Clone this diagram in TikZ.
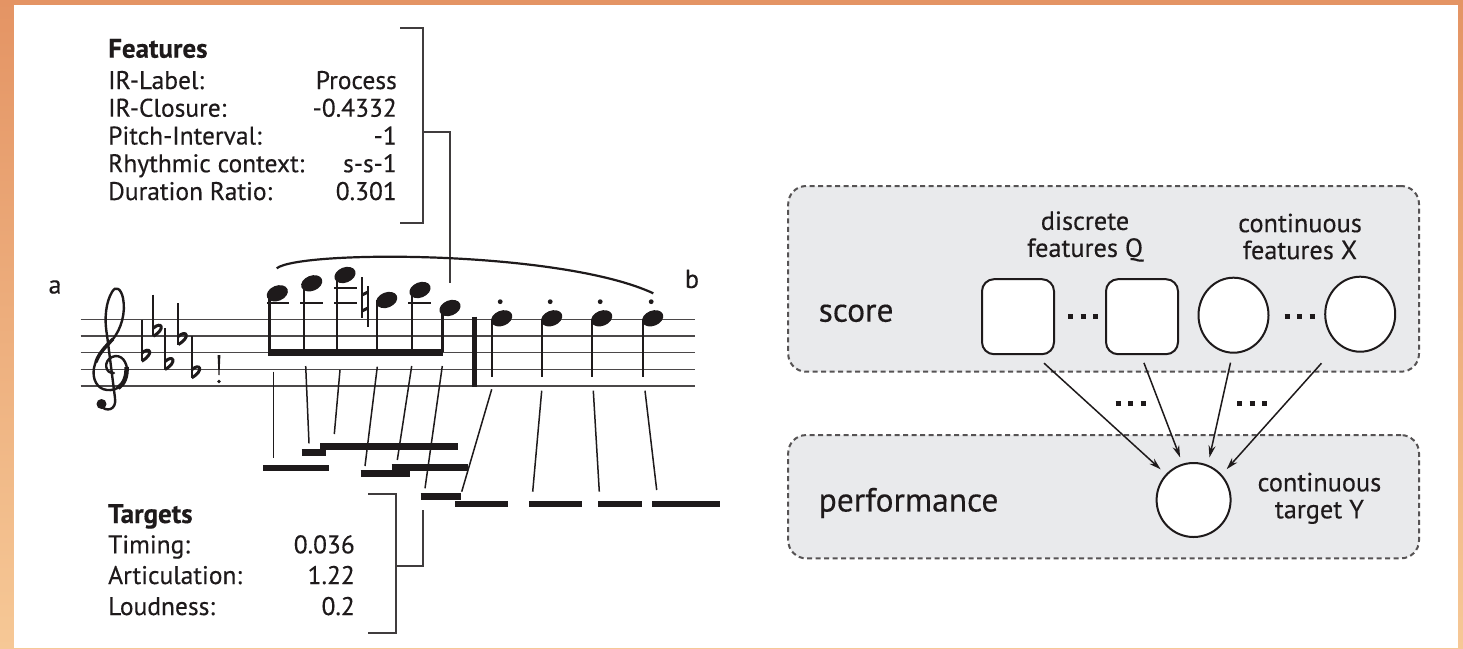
\documentclass[tikz,border=0pt]{standalone}
\usepackage{fontspec}
\setmainfont{PT Sans}[FakeBold=0.3]
\usetikzlibrary{arrows.meta,shapes.geometric,calc}
\definecolor{ink}{RGB}{30,26,27}
\definecolor{boxgray}{RGB}{233,234,236}
\definecolor{bgtop}{RGB}{228,148,100}
\definecolor{bgbot}{RGB}{246,200,150}
\newcommand\nhead[2]{\fill[ink,rotate around={22:(#1,#2)}] (#1,#2) ellipse [x radius=11,y radius=7.6];}
\newcommand\flatsign[2]{\draw[ink,line width=1.8] (#1,#2-33) -- (#1,#2+8.5);
  \draw[ink,line width=3] (#1,#2+0.5) .. controls (#1+8,#2-7) and (#1+13,#2+1) .. (#1,#2+8.5);}
\begin{document}
\begin{tikzpicture}[x=1pt,y=-1pt,
  lbl/.style={text=ink,inner sep=0pt,font=\fontsize{25.5}{29}\selectfont,anchor=base west},
  val/.style={text=ink,inner sep=0pt,font=\fontsize{25.5}{29}\selectfont,anchor=base east},
  hdr/.style={text=ink,inner sep=0pt,font=\fontsize{27}{29}\selectfont\bfseries,anchor=base west},
  brk/.style={draw=ink!85,line width=2},
  staffline/.style={draw=ink!80,line width=1.4},
  link/.style={draw=ink,line width=1.5},
  bar/.style={draw=ink,line width=6.5},
  panel/.style={draw=ink!75,line width=2,dash pattern=on 5pt off 3.5pt,fill=boxgray,rounded corners=18pt,inner sep=0pt},
  sqnode/.style={draw=ink,line width=2,fill=white,rounded corners=12pt,minimum width=72pt,minimum height=75pt,inner sep=0pt},
  cnode/.style={draw=ink,line width=2,fill=white,ellipse,minimum width=70pt,minimum height=75pt,inner sep=0pt},
  big/.style={text=ink,inner sep=0pt,font=\fontsize{33.5}{37}\selectfont},
  mid/.style={text=ink,inner sep=0pt,font=\fontsize{26.3}{27}\selectfont,align=center},
  arr/.style={draw=ink,line width=1.5,-{Stealth[length=12pt,width=7pt]}},
  dots/.style={draw=ink,line width=5,dash pattern=on 5pt off 7.5pt}
]
\useasboundingbox (0,0) rectangle (1463,648);
\shade[top color=bgtop,bottom color=bgbot] (0,0) rectangle (1463,648);
\fill[white] (14,5) rectangle (1458,648);

% ---------- Features ----------
\node[hdr] (fh) at (108,57.7) {Features};
\node[lbl] (f1) at (108,89) {IR-Label:};
\node[val] (v1) at (397,89) {Process};
\node[lbl] (f2) at (108,116.7) {IR-Closure:};
\node[val] (v2) at (397,116.7) {-0.4332};
\node[lbl] (f3) at (108,144.5) {Pitch-Interval:};
\node[val] (v3) at (397,144.5) {-1};
\node[lbl] (f4) at (108,172.2) {Rhythmic context:};
\node[val] (v4) at (397,172.2) {s-s-1};
\node[lbl] (f5) at (108,200) {Duration Ratio:};
\node[val] (v5) at (397,200) {0.301};
\draw[brk] (400,28) -- (423,28) -- (423,223) -- (400,223);
\draw[brk] (423,132) -- (450,132) -- (450,283);

% ---------- Targets ----------
\node[hdr] (th) at (108,523) {Targets};
\node[lbl] (t1) at (108,553.3) {Timing:};
\node[val] (w1) at (355,553.3) {0.036};
\node[lbl] (t2) at (108,584) {Articulation:};
\node[val] (w2) at (355,584) {1.22};
\node[lbl] (t3) at (108,615) {Loudness:};
\node[val] (w3) at (355,615) {0.2};
\draw[brk] (368,494) -- (396,494) -- (396,633) -- (368,633);
\draw[brk] (396,566) -- (423,566) -- (423,510);

% ---------- score ----------
\node[text=ink,font=\fontsize{26}{28}\selectfont] (la) at (55,287) {a};
\node[text=ink,font=\fontsize{26}{28}\selectfont] (lb) at (692,279) {b};
\foreach \y in {319.3,336,352.7,369.3,386} \draw[staffline] (80.7,\y) -- (695,\y);
% treble clef (drawn)
\draw[ink,line width=2.4,line cap=round]
  (114,373) .. controls (105,374) and (103,361) .. (112,357)
  .. controls (121,353) and (128,362) .. (127,373)
  .. controls (126,385) and (116,391) .. (107,390)
  .. controls (97,389) and (92,379) .. (94,368)
  .. controls (96,356) and (106,347) .. (113,339)
  .. controls (121,329) and (126,313) .. (123,298)
  .. controls (121,289) and (116,285) .. (112,292)
  .. controls (106,302) and (104,318) .. (107,335)
  -- (115,398)
  .. controls (117,410) and (106,413) .. (100,405);
\draw[ink,line width=4.5] (126.5,367) .. controls (127,377) and (124,384) .. (118,388);
\draw[ink,line width=3.5] (96,362) .. controls (99,353) and (106,346) .. (113,339);
\fill[ink] (101.5,404) circle (5);
\flatsign{141.7}{352.7}
\flatsign{153.3}{327.7}
\flatsign{165}{361}
\flatsign{178.3}{336}
\flatsign{191.7}{369.3}
\fill[ink] (217.6,355) -- (220.4,355) -- (219.5,375) -- (218.5,375) -- cycle;
\fill[ink] (219,381.5) circle (1.9);
% ledger lines
\draw[ink,line width=2] (267,302.6) -- (289,302.6);
\draw[ink,line width=2] (300,302.6) -- (323,302.6);
\draw[ink,line width=2] (334,302.6) -- (356.7,302.6);
\draw[ink,line width=2] (334,288.3) -- (356.7,288.3);
\draw[ink,line width=2] (408,302.6) -- (430.7,302.6);
% beamed notes
\nhead{277.3}{293.3}
\nhead{311.7}{283.3}
\nhead{345}{275}
\nhead{386.7}{300}
\nhead{420}{290}
\nhead{450}{308}
\foreach \x/\y in {269.3/293,304/283,336.7/275,376.7/300,411.7/290,442.3/308}
  \draw[ink,line width=2.4] (\x,\y) -- (\x,352);
\fill[ink] (268.2,349) rectangle (443.4,356);
% natural
\draw[ink,line width=1.4] (362,277) -- (362,318);
\draw[ink,line width=1.4] (368,286) -- (368,327);
\draw[ink,line width=3] (362,295) -- (368,292);
\draw[ink,line width=3] (362,311) -- (368,308);
% bar line
\draw[ink,line width=4.5] (474.3,316.7) -- (474.3,386.7);
% quarter notes
\foreach \x in {501.7,551.7,601.7,652.7} {
  \nhead{\x}{318.3}
  \draw[ink,line width=2.4] (\x-10,319) -- (\x-10,376.7);
  \fill[ink] (\x-1.5,301.7) circle (2.4);
}
% slur
\draw[ink,line width=2.2] (276.7,268.3) .. controls (300,250) and (560,250) .. (653.3,293.3);

% links to performance bars
\draw[link] (273.3,371.7) -- (273.3,458.3);
\draw[link] (305.7,366) -- (309,443.3);
\draw[link] (340,370) -- (334.3,434);
\draw[link] (377.3,366.7) -- (365,466);
\draw[link] (411.7,366) -- (397.3,460);
\draw[link] (442.3,366) -- (425,488.3);
\draw[link] (491.7,389.3) -- (461.7,491.7);
\draw[link] (541.7,390.7) -- (532.7,491.7);
\draw[link] (593.3,390.7) -- (599.3,491.7);
\draw[link] (645,390.7) -- (656.7,490);
% bars
\draw[bar] (263.3,468) -- (329.3,468);
\draw[bar] (301.7,452.5) -- (326,452.5);
\draw[bar] (320,446.5) -- (458.3,446.5);
\draw[bar] (360.7,473.3) -- (410,473.3);
\draw[bar] (391.7,467.7) -- (467.7,467.7);
\draw[bar] (420.7,496.7) -- (460.7,496.7);
\draw[bar] (455,504) -- (507.7,504);
\draw[bar] (529.3,504) -- (582.3,504);
\draw[bar] (598.3,504) -- (641.7,504);
\draw[bar] (652.3,504) -- (720,504);

% ---------- right panel ----------
\node[panel,minimum width=630.8pt,minimum height=185.7pt] (scorebox) at (1103.6,278.85) {};
\node[panel,minimum width=630.8pt,minimum height=123.3pt] (perfbox) at (1103.6,496.7) {};
\node[big,anchor=west] (scoretxt) at (818.5,313.3) {score};
\node[big,anchor=west] (perftxt) at (818.5,503) {performance};
\node[mid] (dq) at (1085,236.5) {discrete\\features Q};
\node[mid] (cx) at (1300,236.5) {continuous\\features X};
\node[mid] (cy) at (1319.4,498.3) {continuous\\target Y};
\node[sqnode] (sq1) at (1018,316.7) {};
\node[sqnode] (sq2) at (1142,316.7) {};
\node[cnode] (c1) at (1233.5,315.2) {};
\node[cnode] (c2) at (1360.2,314.2) {};
\node[cnode,minimum width=74pt,minimum height=74pt] (tgt) at (1193.6,500) {};
\draw[dots] (1068,316) -- (1098,316);
\draw[dots] (1284.7,316) -- (1315,316);
\draw[dots] (1115.6,403) -- (1146,403);
\draw[dots] (1237,403) -- (1267,403);
\draw[arr,shorten <=11.8pt,shorten >=7pt] ([xshift=17.3pt]sq1.south) -- (tgt.137);
\draw[arr,shorten <=8.2pt,shorten >=6.7pt] ([xshift=-1pt]sq2.south) -- (tgt.107);
\draw[arr,shorten <=9.2pt,shorten >=7.5pt] ([xshift=-1pt]c1.south) -- (tgt.68);
\draw[arr,shorten <=25pt,shorten >=7.2pt] (c2.234) -- (tgt.42);
\end{tikzpicture}
\end{document}
